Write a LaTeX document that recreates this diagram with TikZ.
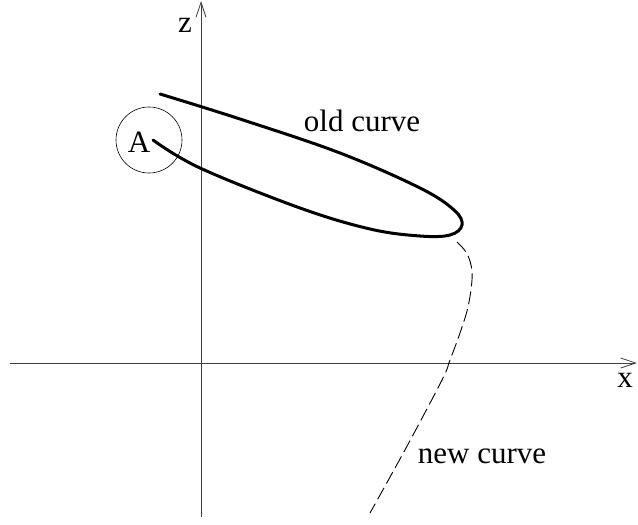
\documentclass[tikz,border=0pt]{standalone}
\usepackage{fontspec}
\setmainfont{Liberation Serif}
\usetikzlibrary{arrows.meta}
\begin{document}
\begin{tikzpicture}[x=1pt,y=-1pt,
  axis/.style={line width=0.8pt,draw=black!75,-{Straight Barb[length=15pt,width=10pt,line width=0.8pt]}},
  lbl/.style={font=\fontsize{31}{31}\selectfont,inner sep=0pt,anchor=base},
  oldc/.style={line width=3pt,line cap=round,line join=round},
  newc/.style={line width=0.9pt,dash pattern=on 13pt off 5pt}]
\useasboundingbox (0,0) rectangle (638,525);
\coordinate (zb) at (201,517);
\coordinate (zt) at (201,1);
\coordinate (xl) at (10,363);
\coordinate (xr) at (637,363);
\draw[axis] (zb) -- (zt);
\draw[axis] (xl) -- (xr);
\node[lbl] (zl) at (185,32) {z};
\node[lbl] (xlab) at (625,387) {x};
\node[lbl] (Al) at (139,152) {A};
\node[draw,circle,line width=0.6pt,minimum size=66pt,inner sep=0pt] (circA) at (149,140) {};
\node[lbl] (oldl) at (362,131) {old curve};
\node[lbl] (newl) at (482,463) {new curve};
\draw[oldc] plot[smooth,tension=0.6] coordinates {(160,94) (240,119) (340,153) (420,188) (454,210) (462,225) (450,235) (420,236) (370,229) (300,208) (200,168) (153,140)};
\draw[newc] plot[smooth,tension=0.6] coordinates {(457,242) (466,252) (471,265) (472,280) (468,307) (460,333) (450,360) (442,380) (406,448) (370,513)};
\end{tikzpicture}
\end{document}
